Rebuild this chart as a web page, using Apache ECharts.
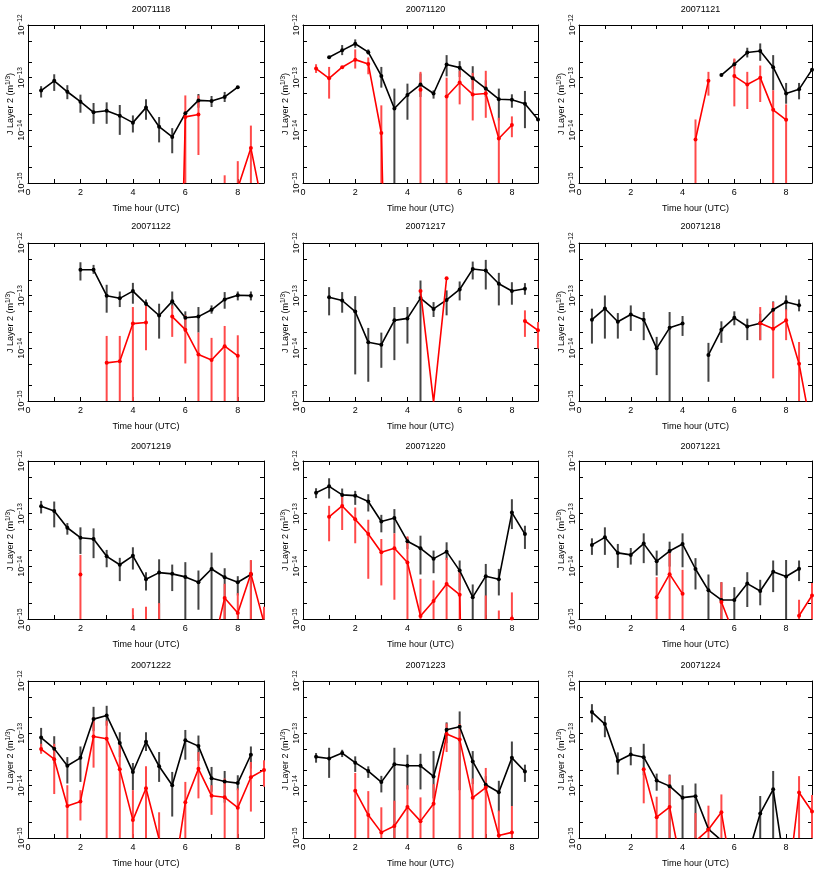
<!DOCTYPE html>
<html>
<head>
<meta charset="utf-8">
<script src="https://cdn.jsdelivr.net/npm/echarts@6/dist/echarts.min.js"></script>
<style>
  html, body { margin: 0; background: #fff; }
  #chart { width: 817px; height: 869px; }
</style>
</head>
<body>
<div id="chart"></div>
<script>
// x positions of all samples (hour UTC)
const hours = [0.5, 1, 1.5, 2, 2.5, 3, 3.5, 4, 4.5, 5, 5.5, 6, 6.5, 7, 7.5, 8, 8.5, 9];
const dates = ['20071118', '20071120', '20071121', '20071122', '20071217', '20071218',
               '20071219', '20071220', '20071221', '20071222', '20071223', '20071224'];
const yTicks = [1e-15, 1e-14, 1e-13, 1e-12];
const yMinorTicks = [1e-15, 2e-15, 5e-15, 1e-14, 2e-14, 5e-14, 1e-13, 2e-13, 5e-13, 1e-12];

// values below 1e-15 are off the bottom of the plot, error bar [low, high]
const blk1118 = [5.7e-14, 8.7e-14, 5.4e-14, 3.5e-14, 2.2e-14, 2.35e-14, 1.9e-14, 1.4e-14, 2.7e-14, 1.17e-14, 7.5e-15, 2.1e-14, 3.7e-14, 3.6e-14, 4.3e-14, 6.6e-14, null, null];
const blkErr1118 = [[4.2e-14, 6.9e-14], [5.6e-14, 1.16e-13], [3.9e-14, 7.2e-14], [2.16e-14, 4.76e-14], [1.33e-14, 3.3e-14], [1.33e-14, 3.4e-14], [8.2e-15, 3.03e-14], [9.1e-15, 1.92e-14], [1.59e-14, 3.88e-14], [5.9e-15, 1.79e-14], [3.67e-15, 1.1e-14], null, [2.69e-14, 4.9e-14], [2.77e-14, 4.49e-14], [3.45e-14, 5.36e-14], null, null, null];
const red1118 = [null, null, null, null, null, null, null, null, null, null, 1e-24, 1.8e-14, 2.0e-14, null, 5e-16, 8e-16, 4.6e-15, 2.7e-16];
const redErr1118 = [null, null, null, null, null, null, null, null, null, null, null, [1e-16, 4.6e-14], [3.4e-15, 4.6e-14], null, [1e-16, 1.4e-15], [1e-16, 2.6e-15], [1e-16, 1.23e-14], null];

const blk1120 = [null, 2.45e-13, 3.3e-13, 4.4e-13, 3.05e-13, 1.08e-13, 2.6e-14, 4.7e-14, 7.4e-14, 5e-14, 1.78e-13, 1.55e-13, 9.7e-14, 6.2e-14, 3.9e-14, 3.8e-14, 3.2e-14, 1.6e-14];
const blkErr1120 = [null, null, [2.68e-13, 4.16e-13], [3.7e-13, 5.33e-13], [2.76e-13, 3.44e-13], [6.47e-14, 1.6e-13], [1e-16, 6.2e-14], [1.59e-14, 7.7e-14], [4.3e-14, 1.2e-13], [4e-14, 5.75e-14], [1.06e-13, 2.68e-13], [1.03e-13, 2.06e-13], [5.93e-14, 1.65e-13], [4.3e-14, 8.93e-14], [1.54e-14, 6.2e-14], [2.69e-14, 4.83e-14], [1.1e-14, 5.6e-14], null];
const red1120 = [1.49e-13, 9.7e-14, 1.58e-13, 2.2e-13, 1.82e-13, 8.9e-15, 1e-24, null, 5.9e-14, null, 4.4e-14, 8.1e-14, 4.8e-14, 5e-14, 7e-15, 1.26e-14, null, null];
const redErr1120 = [[1.23e-13, 1.8e-13], [4e-14, 1.6e-13], null, [1.49e-13, 3.44e-13], [1.16e-13, 2.42e-13], [1e-16, 2.98e-14], null, null, [1e-16, 1.29e-13], null, [1e-16, 1e-13], [3.11e-14, 1.35e-13], [1.54e-14, 1.23e-13], [1.73e-14, 1.35e-13], [1e-16, 1.73e-14], [7.4e-15, 1.84e-14], null, null];

const blk1121 = [null, null, null, null, null, null, null, null, null, null, 1.12e-13, 1.8e-13, 3.0e-13, 3.2e-13, 1.58e-13, 5e-14, 6e-14, 1.42e-13];
const blkErr1121 = [null, null, null, null, null, null, null, null, null, null, null, [1.49e-13, 2.21e-13], [2.42e-13, 3.7e-13], [2.09e-13, 4.47e-13], [5.75e-14, 2.68e-13], [3.2e-14, 7.94e-14], [3.88e-14, 7.94e-14], null];
const red1121 = [null, null, null, null, null, null, null, null, 6.7e-15, 8.7e-14, null, 1.07e-13, 7.4e-14, 1e-13, 2.45e-14, 1.58e-14, null, null];
const redErr1121 = [null, null, null, null, null, null, null, null, [1e-16, 1.61e-14], [4.56e-14, 1.29e-13], null, [2.85e-14, 2.31e-13], [2.54e-14, 1.29e-13], [3.45e-14, 1.7e-13], [1e-16, 5.75e-14], [1e-16, 3.11e-14], null, null];

const blk1122 = [null, null, null, 3.1e-13, 3.1e-13, 1e-13, 8.9e-14, 1.22e-13, 7e-14, 4.2e-14, 7.8e-14, 3.8e-14, 4.0e-14, 5.4e-14, 8.5e-14, 1.02e-13, 1e-13, null];
const blkErr1122 = [null, null, null, [1.94e-13, 4.31e-13], [2.6e-13, 3.84e-13], [4.75e-14, 1.61e-13], [6.08e-14, 1.2e-13], [7.03e-14, 1.75e-13], [5.26e-14, 8.49e-14], [1.53e-14, 7.03e-14], [5.65e-14, 1.2e-13], [2.05e-14, 5.04e-14], [1.99e-14, 6.08e-14], [4.55e-14, 6.53e-14], [5.65e-14, 1.17e-13], [8.13e-14, 1.2e-13], [8.13e-14, 1.2e-13], null];
const red1122 = [null, null, null, null, null, 5.3e-15, 5.7e-15, 2.95e-14, 3.1e-14, null, 4e-14, 2.26e-14, 7.6e-15, 6e-15, 1.1e-14, 7.2e-15, null, null];
const redErr1122 = [null, null, null, null, null, [1e-16, 1.72e-14], [1e-16, 1.72e-14], [1e-16, 6.08e-14], [9.2e-15, 6.35e-14], null, [1.65e-14, 6.53e-14], [5.16e-15, 4.23e-14], [1e-16, 1.99e-14], [1e-16, 1.58e-14], [1e-16, 2.66e-14], [1e-16, 1.77e-14], null, null];

const blk1217 = [null, 9.3e-14, 8.1e-14, 5e-14, 1.3e-14, 1.17e-14, 3.4e-14, 3.7e-14, 9e-14, 5.6e-14, 8.3e-14, 1.31e-13, 3.2e-13, 3.0e-13, 1.68e-13, 1.23e-13, 1.35e-13, null];
const blkErr1217 = [null, [4.23e-14, 1.45e-13], [4.75e-14, 1.17e-13], [3.2e-15, 9.8e-14], [2.32e-15, 2.44e-14], [4.27e-15, 1.99e-14], [5.97e-15, 6.08e-14], [1.23e-14, 6.08e-14], [1e-16, 1.94e-13], [3.94e-14, 7.55e-14], [4.23e-14, 1.26e-13], [8.13e-14, 1.86e-13], [2.03e-13, 4.44e-13], [1.31e-13, 4.78e-13], [6.53e-14, 2.71e-13], [6.73e-14, 1.8e-13], [1.04e-13, 1.73e-13], null];
const red1217 = [null, null, null, null, null, null, null, null, 1.23e-13, 9.5e-16, 2.15e-13, null, null, null, null, null, 3.3e-14, 2.2e-14];
const redErr1217 = [null, null, null, null, null, null, null, null, null, null, null, null, null, null, null, null, [1.65e-14, 5.26e-14], [9.9e-15, 3.16e-14]];

const blk1218 = [3.5e-14, 5.7e-14, 3.2e-14, 4.4e-14, 3.5e-14, 1e-14, 2.45e-14, 2.95e-14, null, 7.5e-15, 2.26e-14, 3.8e-14, 2.6e-14, 3.0e-14, 5.4e-14, 7.6e-14, 6.6e-14, null];
const blkErr1218 = [[1.23e-14, 5.65e-14], [1.53e-14, 1.01e-13], [1.53e-14, 4.68e-14], [2.14e-14, 6.53e-14], [1.43e-14, 4.89e-14], [3.1e-15, 1.65e-14], [1e-16, 4.89e-14], [1.72e-14, 4.11e-14], null, [2.32e-15, 1.27e-14], [1.27e-14, 3.26e-14], [2.74e-14, 5.04e-14], [1.43e-14, 3.66e-14], [1.43e-14, 4.55e-14], [2.55e-14, 7.78e-14], [5.26e-14, 1.01e-13], [5.04e-14, 8.49e-14], null];
const red1218 = [null, null, null, null, null, null, null, null, null, null, null, null, null, 3.0e-14, 2.35e-14, 3.4e-14, 5.1e-15, 2.5e-16];
const redErr1218 = [null, null, null, null, null, null, null, null, null, null, null, null, null, [1.43e-14, 6.08e-14], [2.69e-15, 7.55e-14], [1.43e-14, 5.5e-14], [1e-16, 1.32e-14], null];

const blk1219 = [1.39e-13, 1.12e-13, 5.4e-14, 3.5e-14, 3.3e-14, 1.55e-14, 1.07e-14, 1.58e-14, 5.7e-15, 7.6e-15, 7.2e-15, 6.3e-15, 5.0e-15, 8.9e-15, 6.2e-15, 5.0e-15, 7e-15, null];
const blkErr1219 = [[1.01e-13, 1.75e-13], [5.5e-14, 1.7e-13], [3.99e-14, 6.63e-14], [1.72e-14, 5.5e-14], [1.43e-14, 5.26e-14], [9.6e-15, 2.05e-14], [5.24e-15, 1.45e-14], [8.7e-15, 2.3e-14], [3.49e-15, 7.74e-15], [1e-16, 1.36e-14], [3.39e-15, 1.08e-14], [1e-16, 1.2e-14], [1.5e-15, 8.33e-15], [1e-16, 1.82e-14], [1e-16, 9.2e-15], [2.8e-15, 6.5e-15], [1e-16, 1.29e-14], null];
const red1219 = [null, null, null, 7e-15, null, null, null, 5e-16, 5e-16, 5e-16, null, null, null, 2.2e-16, 2.5e-15, 1.3e-15, 7.2e-15, 8.5e-16];
const redErr1219 = [null, null, null, [1e-16, 1.65e-14], null, null, null, [1e-16, 1.6e-15], [1e-16, 1.7e-15], [1e-16, 2.0e-15], null, null, null, null, [1e-16, 4.66e-15], [1e-16, 3.1e-15], [1e-16, 1.32e-14], [1e-16, 1.7e-15]];

const blk1220 = [2.5e-13, 3.3e-13, 2.27e-13, 2.2e-13, 1.7e-13, 7.1e-14, 8.3e-14, 3.0e-14, 2.2e-14, 1.4e-14, 1.9e-14, 8.3e-15, 2.6e-15, 6.5e-15, 5.7e-15, 1.05e-13, 4.1e-14, null];
const blkErr1220 = [[1.97e-13, 3.04e-13], [1.94e-13, 4.7e-13], [1.31e-13, 3e-13], [1.47e-13, 2.71e-13], [1.1e-13, 2.34e-13], [4.42e-14, 9.5e-14], [4.23e-14, 1.22e-13], [2.14e-14, 3.56e-14], [7e-15, 3.82e-14], [7.4e-15, 1.99e-14], [1.32e-14, 2.86e-14], [3.49e-15, 1.29e-14], [1e-16, 4.53e-15], [1e-16, 1.11e-14], [2.8e-15, 8.95e-15], [5.1e-14, 1.88e-13], [2.14e-14, 5.9e-14], null];
const red1220 = [null, 8.7e-14, 1.4e-13, 7.8e-14, 4.1e-14, 1.85e-14, 2.2e-14, 1.18e-14, 1.14e-15, 2.2e-15, 4.6e-15, 2.9e-15, 1e-24, 5e-16, 5e-16, 1.02e-15, null, null];
const redErr1220 = [null, [2.99e-14, 1.41e-13], [4.89e-14, 2.34e-13], [2.74e-14, 1.31e-13], [5.8e-15, 7.67e-14], [4.34e-15, 3.3e-14], [2.32e-15, 4.23e-14], [1e-16, 3.71e-14], [1e-16, 5.8e-15], [1e-16, 5.4e-15], [1e-16, 1.45e-14], [1e-16, 8.33e-15], null, [1e-16, 2.8e-15], [1e-16, 1.45e-15], [1e-16, 3.2e-15], null, null];

const blk1221 = [2.55e-14, 3.55e-14, 1.8e-14, 1.65e-14, 2.7e-14, 1.25e-14, 1.95e-14, 2.65e-14, 8.9e-15, 3.5e-15, 2.3e-15, 2.3e-15, 4.7e-15, 3.4e-15, 7.9e-15, 6.4e-15, 9.0e-15, null];
const blkErr1221 = [[1.65e-14, 3.4e-14], [1.65e-14, 5.5e-14], [9.35e-15, 2.66e-14], [1.08e-14, 2.23e-14], [1.15e-14, 4.23e-14], [6.7e-15, 1.99e-14], [9.9e-15, 2.94e-14], [9.6e-15, 4.23e-14], [3.64e-15, 1.43e-14], [1e-16, 7e-15], [1e-16, 5e-15], [1e-16, 4.03e-15], [1.69e-15, 7.74e-15], [1.82e-15, 5.55e-15], [3.24e-15, 1.29e-14], [1e-16, 1.32e-14], [5.24e-15, 1.29e-14], null];
const red1221 = [null, null, null, null, null, 2.6e-15, 7.1e-15, 3.0e-15, null, null, 2.1e-15, 5e-16, null, null, null, null, 1.15e-15, 2.8e-15];
const redErr1221 = [null, null, null, null, null, [1e-16, 6.23e-15], [1e-16, 1.77e-14], [1e-16, 8.57e-15], null, null, [1e-16, 5e-15], null, null, null, null, null, [1e-16, 2.32e-15], [1e-16, 4.8e-15]];

const blk1222 = [8.3e-14, 5.1e-14, 2.4e-14, 3.4e-14, 1.87e-13, 2.2e-13, 6.5e-14, 1.82e-14, 6.9e-14, 2.35e-14, 1.02e-14, 7.4e-14, 5.7e-14, 1.38e-14, 1.2e-14, 1.12e-14, 3.9e-14, null];
const blkErr1222 = [[4.39e-14, 1.27e-13], [2.64e-14, 8.81e-14], [1.1e-14, 3.52e-14], [1.18e-14, 5.61e-14], [1.1e-13, 3.21e-13], [1.4e-13, 3.36e-13], [3.52e-14, 1.05e-13], [8.2e-15, 2.71e-14], [4.58e-14, 1.05e-13], [1.18e-14, 4.39e-14], [2.57e-15, 1.83e-14], [3.14e-14, 1.16e-13], [2.96e-14, 9.08e-14], [7.65e-15, 2.28e-14], [4.73e-15, 1.91e-14], [8.2e-15, 1.58e-14], [2.12e-14, 5.61e-14], null];
const red1222 = [5e-14, 3.2e-14, 4.1e-15, 5e-15, 8.7e-14, 7.9e-14, 2.05e-14, 2.2e-15, 8.9e-15, 9.5e-16, 1.15e-16, 4.8e-15, 2.1e-14, 6.4e-15, 6.0e-15, 3.8e-15, 1.45e-14, 2.0e-14];
const redErr1222 = [[4.07e-14, 6.31e-14], [6.92e-15, 6.31e-14], [1e-16, 1.02e-14], [2.16e-15, 8.2e-15], [2.21e-14, 2.02e-13], [1e-16, 1.75e-13], [1e-16, 6.78e-14], [1e-16, 8.2e-15], [1e-16, 2.34e-14], [1e-16, 3.1e-15], null, [1e-16, 1.18e-14], [5.72e-15, 4.39e-14], [2.77e-15, 1.02e-14], [1e-16, 1.37e-14], [1e-16, 8.85e-15], [3.2e-15, 2.83e-14], [9.5e-15, 3.05e-14]];

const blk1223 = [3.55e-14, 3.3e-14, 4.2e-14, 2.75e-14, 1.9e-14, 1.17e-14, 2.57e-14, 2.4e-14, 2.4e-14, 1.5e-14, 1.17e-13, 1.34e-13, 2.9e-14, 1.04e-14, 7.5e-15, 3.4e-14, 1.86e-14, null];
const blkErr1223 = [[2.75e-14, 4.2e-14], [1.41e-14, 5.3e-14], [3.52e-14, 4.85e-14], [1.83e-14, 3.63e-14], [1.41e-14, 2.34e-14], [7.43e-15, 1.54e-14], [1e-16, 5.3e-14], [8.48e-15, 3.9e-14], [8.48e-15, 4.07e-14], [5.72e-15, 4.58e-14], [6.49e-14, 1.62e-13], [8.2e-15, 2.62e-13], [1.07e-14, 4.58e-14], [7.33e-15, 1.52e-14], [3.2e-15, 1.24e-14], [4.09e-15, 6.98e-14], [1.18e-14, 2.52e-14], null];
const red1223 = [null, null, null, 8e-15, 2.75e-15, 1.28e-15, 1.7e-15, 3.9e-15, 2.1e-15, 4.5e-15, 9.7e-14, 7.6e-14, 5.9e-15, 9.2e-15, 1.12e-15, 1.28e-15, null, null];
const redErr1223 = [null, null, null, [1e-16, 1.75e-14], [1e-16, 7.87e-15], [1e-16, 3.86e-15], [1e-16, 5.16e-15], [1e-16, 1.02e-14], [1e-16, 5.97e-15], [1e-16, 1.07e-14], [4.39e-14, 1.55e-13], [1e-16, 1.51e-13], [1e-16, 1.37e-14], [1e-16, 2.18e-14], [1e-16, 3.34e-15], [1e-16, 4.09e-15], null, null];

const blk1224 = [2.55e-13, 1.5e-13, 2.95e-14, 3.95e-14, 3.5e-14, 1.26e-14, 9.8e-15, 5.9e-15, 6.3e-15, 1.48e-15, 9e-16, 2e-16, 4.3e-16, 2.95e-15, 8.5e-15, 1.9e-16, null, null];
const blkErr1224 = [[1.62e-13, 3.61e-13], [8.43e-14, 2.14e-13], [1.63e-14, 4.33e-14], [2.45e-14, 5.46e-14], [1.58e-14, 6.31e-14], [8e-15, 1.7e-14], [1e-16, 1.63e-14], [1e-16, 1.02e-14], [1e-16, 1.1e-14], null, null, null, null, [1e-16, 6.34e-15], [1e-16, 1.91e-14], null, null, null];
const red1224 = [null, null, null, null, 2.05e-14, 2.5e-15, 3.9e-15, 2.3e-16, 8.7e-16, 1.45e-15, 3.1e-15, 1.1e-16, null, null, null, 6.3e-17, 7.4e-15, 3.2e-15];
const redErr1224 = [null, null, null, null, [4.6e-15, 2.2e-14], [1e-16, 6.15e-15], [1e-16, 1.58e-14], null, [1e-16, 3e-15], [1e-16, 4.15e-15], [1e-16, 6.8e-15], null, null, null, null, null, [1e-16, 1.52e-14], [1e-16, 6.62e-15]];

const blkSets = [blk1118, blk1120, blk1121, blk1122, blk1217, blk1218, blk1219, blk1220, blk1221, blk1222, blk1223, blk1224];
const blkErrSets = [blkErr1118, blkErr1120, blkErr1121, blkErr1122, blkErr1217, blkErr1218, blkErr1219, blkErr1220, blkErr1221, blkErr1222, blkErr1223, blkErr1224];
const redSets = [red1118, red1120, red1121, red1122, red1217, red1218, red1219, red1220, red1221, red1222, red1223, red1224];
const redErrSets = [redErr1118, redErr1120, redErr1121, redErr1122, redErr1217, redErr1218, redErr1219, redErr1220, redErr1221, redErr1222, redErr1223, redErr1224];

// panel layout (pixels)
const colLeft = [28, 303, 579];
const colWidth = [236, 235, 233];
const rowTop = [25, 243, 461, 681];
const titleTop = [0, 217, 437, 656];
const plotHeight = 158;

const font = '"Liberation Sans", Arial, sans-serif';
const minus = '\u2212';

const chart = echarts.init(document.getElementById('chart'));

const errRenderer = (color) => (params, api) => {
  const cs = params.coordSys;
  const hi = api.coord([api.value(0), api.value(2)]);
  const lo = api.coord([api.value(0), api.value(1)]);
  const y1 = Math.max(cs.y, hi[1]);
  const y2 = Math.min(cs.y + cs.height, lo[1]);
  if (y2 <= y1) return;
  return {
    type: 'line',
    shape: { x1: hi[0], y1: y1, x2: hi[0], y2: y2 },
    style: { stroke: color, lineWidth: 2 }
  };
};

const toPoints = (vals) => hours.map((h, k) => [h, vals[k] == null ? '-' : vals[k]]);
const toErrs = (errs) => hours.map((h, k) => errs[k] ? [h, errs[k][0], errs[k][1]] : null).filter(d => d);

const grid = [], xAxis = [], yAxis = [], series = [], title = [];

dates.forEach((date, i) => {
  const row = Math.floor(i / 3), col = i % 3;
  grid.push({ left: colLeft[col], top: rowTop[row], width: colWidth[col], height: plotHeight });
  title.push({
    text: date,
    left: colLeft[col] + colWidth[col] / 2,
    top: titleTop[row],
    textAlign: 'center',
    textStyle: { fontSize: 9, fontWeight: 'normal', color: '#000', fontFamily: font }
  });

  const xBase = {
    gridIndex: i, type: 'value', min: 0, max: 9, interval: 1,
    splitLine: { show: false },
    axisLine: { onZero: false, lineStyle: { color: '#000', width: 1 } },
    axisTick: { inside: true, length: 4, lineStyle: { color: '#000' } }
  };
  xAxis.push(Object.assign({}, xBase, {
    position: 'bottom',
    name: 'Time hour (UTC)', nameLocation: 'middle', nameGap: 21,
    nameTextStyle: { fontSize: 9, color: '#000', fontFamily: font },
    axisLabel: { fontSize: 9, color: '#000', margin: 5, fontFamily: font,
      formatter: v => (v % 2 === 0 ? String(v) : '') }
  }));
  xAxis.push(Object.assign({}, xBase, { position: 'top', axisLabel: { show: false } }));

  const yBase = {
    gridIndex: i, type: 'log', logBase: 10, min: 1e-15, max: 1e-12,
    splitLine: { show: false },
    axisLine: { onZero: false, lineStyle: { color: '#000', width: 1 } },
    axisTick: { inside: true, length: 4, customValues: yMinorTicks, lineStyle: { color: '#000' } }
  };
  yAxis.push(Object.assign({}, yBase, {
    position: 'left',
    name: 'J Layer 2 (m{s|1/3})', nameLocation: 'middle', nameGap: 10,
    nameTextStyle: { fontSize: 9, color: '#000', fontFamily: font, lineHeight: 11,
      rich: { s: { fontSize: 6.5, verticalAlign: 'top', lineHeight: 11, fontFamily: font } } },
    axisLabel: {
      rotate: 90, margin: 1, color: '#000', customValues: yTicks,
      formatter: v => '{b|10}{s|' + minus + Math.round(-Math.log10(v)) + '}',
      rich: {
        b: { fontSize: 9, lineHeight: 10, fontFamily: font },
        s: { fontSize: 6.5, lineHeight: 10, verticalAlign: 'top', fontFamily: font }
      }
    }
  }));
  yAxis.push(Object.assign({}, yBase, { position: 'right', axisLabel: { show: false } }));

  const xi = 2 * i, yi = 2 * i;
  series.push({
    type: 'custom', xAxisIndex: xi, yAxisIndex: yi,
    renderItem: errRenderer('#444'), data: toErrs(blkErrSets[i]), z: 1, silent: true
  });
  series.push({
    type: 'custom', xAxisIndex: xi, yAxisIndex: yi,
    renderItem: errRenderer('#ff4a4a'), data: toErrs(redErrSets[i]), z: 2, silent: true
  });
  series.push({
    type: 'line', xAxisIndex: xi, yAxisIndex: yi, data: toPoints(blkSets[i]),
    symbol: 'circle', symbolSize: 4, showAllSymbol: true, clip: true, z: 3,
    lineStyle: { color: '#000', width: 1.6 }, itemStyle: { color: '#000' }, animation: false
  });
  series.push({
    type: 'line', xAxisIndex: xi, yAxisIndex: yi, data: toPoints(redSets[i]),
    symbol: 'circle', symbolSize: 4, showAllSymbol: true, clip: true, z: 4,
    lineStyle: { color: '#ff0000', width: 1.6 }, itemStyle: { color: '#ff0000' }, animation: false
  });
});

chart.setOption({
  animation: false,
  backgroundColor: '#fff',
  title: title,
  grid: grid,
  xAxis: xAxis,
  yAxis: yAxis,
  series: series
});
</script>
</body>
</html>
